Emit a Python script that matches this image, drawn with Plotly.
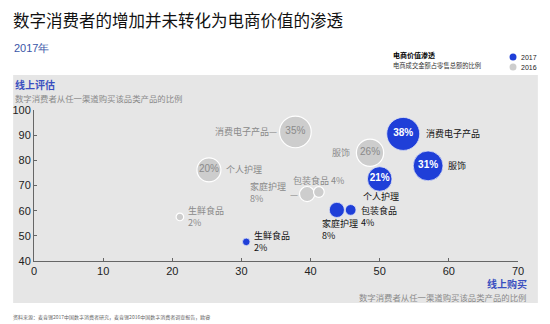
import plotly.graph_objects as go

# ---------------- data ----------------
categories = ["消费电子产品", "服饰", "个人护理", "家庭护理", "包装食品", "生鲜食品"]
online_buy_2017 = [53.4, 57.0, 50.0, 43.8, 45.8, 30.7]
online_eval_2017 = [90.5, 77.8, 72.6, 60.3, 60.3, 47.6]
penetration_2017 = [38, 31, 21, 8, 4, 2]
online_buy_2016 = [37.8, 48.6, 25.3, 39.5, 41.2, 21.1]
online_eval_2016 = [91.3, 83.0, 76.2, 66.6, 67.4, 57.5]
penetration_2016 = [35, 26, 20, 8, 4, 2]
x_ticks = [0, 10, 20, 30, 40, 50, 60, 70]
y_ticks = [40, 50, 60, 70, 80, 90, 100]

# ---------------- style ----------------
BLUE = "#1f3fd8"
GRAY = "#cdcdcd"
PANEL = "#e6e6e6"
CJK = "Noto Sans CJK SC"
LAT = "Liberation Sans, Arial, sans-serif"

W, H = 550, 324
L, R, T, B = 31, 32, 110, 63
PW, PH = W - L - R, H - T - B


def px(x):
    return (x - L) / PW


def py(y):
    return (H - B - y) / PH


sizeref = 2 * max(penetration_2017) / 33 ** 2

fig = go.Figure()


def inside(vals):
    return [f"{v}%" if v >= 20 else "" for v in vals]


fig.add_trace(go.Scatter(
    x=online_buy_2016, y=online_eval_2016, mode="markers+text",
    text=inside(penetration_2016), textposition="middle center",
    textfont=dict(family=LAT, size=10, color="#8a8a8a"),
    marker=dict(size=penetration_2016, sizemode="area", sizeref=sizeref,
                color=GRAY, line=dict(color="white", width=1.2), opacity=1),
    name="2016", showlegend=False, hoverinfo="skip"))

fig.add_trace(go.Scatter(
    x=online_buy_2017, y=online_eval_2017, mode="markers+text",
    text=inside(penetration_2017), textposition="middle center",
    textfont=dict(family=LAT, size=10, color="white", weight="bold"),
    marker=dict(size=penetration_2017, sizemode="area", sizeref=sizeref,
                color=BLUE, line=dict(color="#dfe3f5", width=0.8), opacity=1),
    name="2017", showlegend=False, hoverinfo="skip"))

# label placement: (template, xshift, yshift, xanchor)
place_2017 = [
    ("{n}", 22, 0, "left"),
    ("{n}", 19, 0, "left"),
    ("{n}", 1, -18, "center"),
    ("{n}<br>{v}%", -16, -20, "left"),
    ("{n}<br>{v}%", 9, -6.5, "left"),
    ("{n}<br>{v}%", 7, 0, "left"),
]
place_2016 = [
    ("{n}—", -17, 0, "right"),
    ("{n}", -19, 0, "right"),
    ("{n}", 16, 0, "left"),
    ("{n}<br>{v}%", -20, 2, "right"),
    ("{n} {v}%", 0, 12, "center"),
    ("{n}<br>{v}%", 7, 0, "left"),
]

ann = []
for xs, ys, vs, place, col in [
    (online_buy_2016, online_eval_2016, penetration_2016, place_2016, "#8a8a8a"),
    (online_buy_2017, online_eval_2017, penetration_2017, place_2017, "#111111"),
]:
    for name, x, y, v, (tpl, dx, dy, xa) in zip(categories, xs, ys, vs, place):
        ann.append(dict(x=x, y=y, xref="x", yref="y", text=tpl.format(n=name, v=v),
                        showarrow=False, xshift=dx, yshift=dy, xanchor=xa,
                        yanchor="middle", align="left", borderpad=0,
                        font=dict(family=CJK, size=9, color=col)))
# leader dash for 2016 household care
ann.append(dict(x=online_buy_2016[3], y=online_eval_2016[3], xref="x", yref="y",
                text="—", showarrow=False, xshift=-13, yshift=0, borderpad=0,
                font=dict(family=CJK, size=9, color="#8a8a8a")))


def pa(text, x, y, size, color, xanchor="left", family=CJK, weight="normal"):
    ann.append(dict(x=px(x), y=py(y), xref="paper", yref="paper", text=text,
                    showarrow=False, xanchor=xanchor, yanchor="middle", borderpad=0,
                    font=dict(family=family, size=size, color=color, weight=weight)))


pa("数字消费者的增加并未转化为电商价值的渗透", 9, 20, 16.5, "#111111")
pa("2017年", 10, 48, 11, "#3a56a8", family=LAT)
pa("电商价值渗透", 391, 55, 7, "#000000", weight="bold")
pa("电商成交金额占零售总额的比例", 391, 65, 6.3, "#333333")
pa("2017", 520, 57, 7, "#222222", family=LAT)
pa("2016", 520, 67, 7, "#222222", family=LAT)
pa("线上评估", 11, 84, 10, "#3a4fc0", weight="bold")
pa("数字消费者从任一渠道购买该品类产品的比例", 11, 98, 8.4, "#8a8a8a")
pa("线上购买", 528, 283, 10, "#3a4fc0", xanchor="right", weight="bold")
pa("数字消费者从任一渠道购买该品类产品的比例", 528, 297, 8.4, "#8a8a8a", xanchor="right")
pa("资料来源：麦肯锡2017中国数字消费者研究，麦肯锡2016中国数字消费者调查报告，欧睿", 9, 317, 5, "#666666")

shapes = [
    dict(type="rect", xref="paper", yref="paper", x0=px(10), x1=px(538),
         y0=py(303), y1=py(75), fillcolor=PANEL, line=dict(width=0), layer="below"),
    dict(type="circle", xref="paper", yref="paper", x0=px(509.5), x1=px(516.5),
         y0=py(60.5), y1=py(53.5), fillcolor=BLUE, line=dict(width=0)),
    dict(type="circle", xref="paper", yref="paper", x0=px(509.5), x1=px(516.5),
         y0=py(70.5), y1=py(63.5), fillcolor=GRAY, line=dict(width=0)),
]

axis_common = dict(showgrid=False, zeroline=False, showline=True, linecolor="#666666",
                   linewidth=1, ticks="inside", ticklen=3, tickcolor="#666666",
                   tickfont=dict(family=LAT, size=11, color="#222222"))

fig.update_layout(
    width=W, height=H, margin=dict(l=L, r=R, t=T, b=B, pad=0),
    paper_bgcolor="white", plot_bgcolor="rgba(0,0,0,0)",
    xaxis=dict(range=[0, 70], tickvals=x_ticks, **axis_common),
    yaxis=dict(range=[40, 100], tickvals=y_ticks, **axis_common),
    annotations=ann, shapes=shapes, showlegend=False,
)

fig.write_html("out.html")
